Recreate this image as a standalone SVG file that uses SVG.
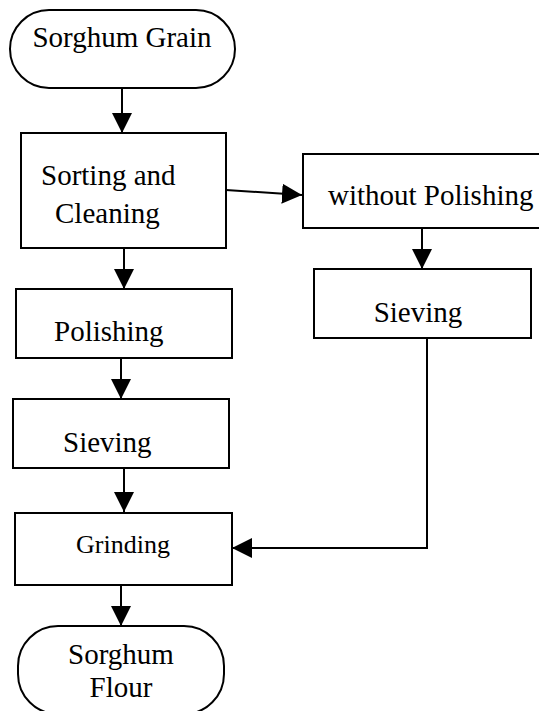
<svg xmlns="http://www.w3.org/2000/svg" width="539" height="711" viewBox="0 0 539 711">
<style>
.box{fill:#fff;stroke:#000;stroke-width:2}
.t{font-family:"Liberation Serif","Times New Roman",serif;font-size:29px;fill:#000}
.c{fill:none;stroke:#000;stroke-width:2}
</style>
<defs>
<marker id="ah" markerWidth="20" markerHeight="20" refX="20" refY="10" orient="auto" markerUnits="userSpaceOnUse" viewBox="0 0 20 20">
<path d="M0,0 L20,10 L0,20 Z" fill="#000"/>
</marker>
</defs>
<g id="connectors">
<line class="c" x1="122" y1="88" x2="122" y2="133" marker-end="url(#ah)"/>
<line class="c" x1="226" y1="190" x2="302" y2="195" marker-end="url(#ah)"/>
<line class="c" x1="422" y1="228" x2="422" y2="269" marker-end="url(#ah)"/>
<line class="c" x1="124" y1="248" x2="124" y2="289" marker-end="url(#ah)"/>
<line class="c" x1="121" y1="358" x2="121" y2="399" marker-end="url(#ah)"/>
<line class="c" x1="124" y1="468" x2="124" y2="512" marker-end="url(#ah)"/>
<path class="c" d="M413,337.5 H427 V548 H232" marker-end="url(#ah)"/>
<line class="c" x1="121" y1="585" x2="121" y2="626" marker-end="url(#ah)"/>
</g>
<g id="grain">
<rect class="box" x="10" y="10" width="225" height="78" rx="39" ry="39"/>
<text class="t" x="122" y="47" text-anchor="middle">Sorghum Grain</text>
</g>
<g id="sorting">
<rect class="box" x="21" y="133" width="205" height="115"/>
<text class="t" x="41" y="185">Sorting and</text>
<text class="t" x="55" y="223">Cleaning</text>
</g>
<g id="without">
<rect class="box" x="303" y="154" width="245" height="74"/>
<text class="t" x="328" y="205">without Polishing</text>
</g>
<g id="sieving2">
<rect class="box" x="314" y="269" width="217" height="69"/>
<text class="t" x="418" y="322" text-anchor="middle">Sieving</text>
</g>
<g id="polishing">
<rect class="box" x="16" y="289" width="216" height="69"/>
<text class="t" x="54" y="341">Polishing</text>
</g>
<g id="sieving1">
<rect class="box" x="13" y="399" width="216" height="69"/>
<text class="t" x="63" y="452">Sieving</text>
</g>
<g id="grinding">
<rect class="box" x="15" y="513" width="217" height="72"/>
<text class="t" x="76" y="553" style="font-size:26px">Grinding</text>
</g>
<g id="flour">
<rect class="box" x="18" y="626" width="206" height="88" rx="40" ry="40"/>
<text class="t" x="121" y="664" text-anchor="middle">Sorghum</text>
<text class="t" x="121" y="697" text-anchor="middle">Flour</text>
</g>
</svg>
